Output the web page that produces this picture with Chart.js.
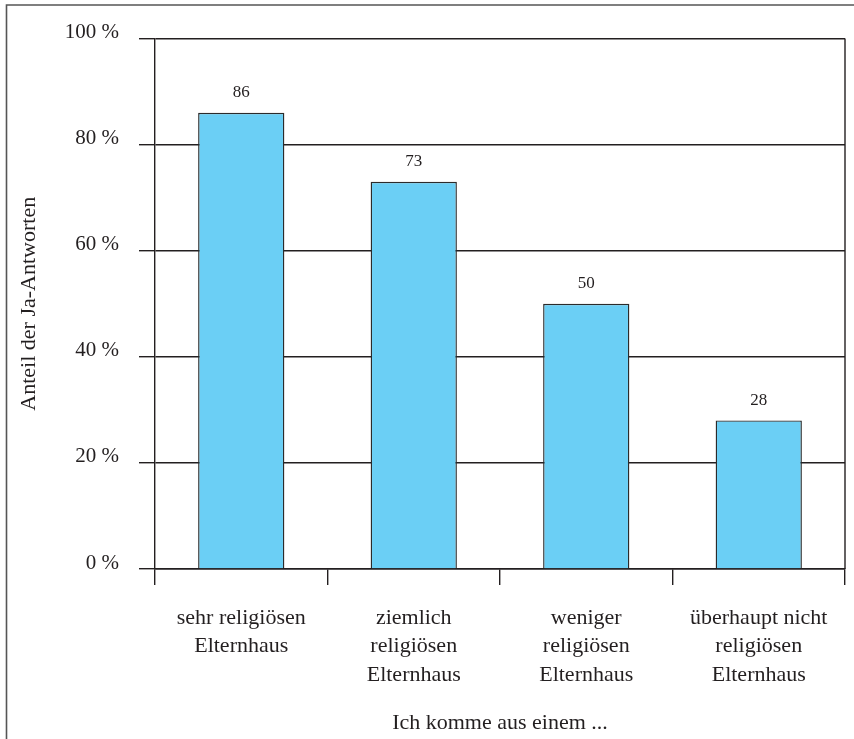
<!DOCTYPE html>
<html>
<head>
<meta charset="utf-8">
<script src="https://cdn.jsdelivr.net/npm/chart.js@4/dist/chart.umd.min.js"></script>
<style>
html,body{margin:0;padding:0;background:#fff;}
#wrap{width:854px;height:739px;position:relative;}
</style>
</head>
<body>
<div id="wrap"><canvas id="c" width="854" height="739"></canvas></div>
<script>
const categories = [
  ["sehr religiösen", "Elternhaus"],
  ["ziemlich", "religiösen", "Elternhaus"],
  ["weniger", "religiösen", "Elternhaus"],
  ["überhaupt nicht", "religiösen", "Elternhaus"]
];
const values = [86, 73, 50, 28];
const yTicks = [0, 20, 40, 60, 80, 100];
const yTitle = "Anteil der Ja-Antworten";
const xTitle = "Ich komme aus einem ...";

const FONT = "'Liberation Serif', 'Times New Roman', serif";
const INK = "#231f20";

const framePlugin = {
  id: 'frame',
  beforeDraw(chart) {
    const ctx = chart.ctx;
    ctx.save();
    ctx.strokeStyle = '#555';
    ctx.lineWidth = 1.6;
    ctx.beginPath();
    ctx.moveTo(6.5, 739);
    ctx.lineTo(6.5, 5);
    ctx.lineTo(854, 5);
    ctx.stroke();
    ctx.restore();
  },
  afterDraw(chart) {
    const a = chart.chartArea;
    const ctx = chart.ctx;
    ctx.save();
    ctx.strokeStyle = INK;
    ctx.lineWidth = 1.4;
    ctx.beginPath();
    ctx.moveTo(a.right, a.top);
    ctx.lineTo(a.right, a.bottom);
    ctx.stroke();
    ctx.restore();
  }
};

const labelPlugin = {
  id: 'vlabels',
  afterDatasetsDraw(chart) {
    const ctx = chart.ctx;
    const meta = chart.getDatasetMeta(0);
    ctx.save();
    ctx.font = "17px " + FONT;
    ctx.fillStyle = INK;
    ctx.textAlign = 'center';
    ctx.textBaseline = 'middle';
    meta.data.forEach((el, i) => {
      ctx.fillText(String(values[i]), el.x, el.y - 20);
    });
    ctx.restore();
  }
};

new Chart(document.getElementById('c'), {
  type: 'bar',
  data: {
    labels: categories,
    datasets: [{
      data: values,
      backgroundColor: '#6bcff5',
      borderColor: '#2b2b2b',
      borderWidth: 1.4,
      categoryPercentage: 1.0,
      barPercentage: 0.5
    }]
  },
  options: {
    responsive: false,
    animation: false,
    devicePixelRatio: 1,
    layout: { padding: { top: 38.5, right: 9, left: 0, bottom: 0 } },
    plugins: { legend: { display: false }, tooltip: { enabled: false } },
    scales: {
      x: {
        afterFit(s) { s.height = 170; },
        grid: {
          offset: true,
          drawOnChartArea: false,
          drawTicks: true,
          tickLength: 16,
          color: INK,
          lineWidth: 1.4
        },
        border: { display: true, color: INK, width: 1.4 },
        ticks: {
          color: INK,
          font: { family: FONT, size: 22, lineHeight: 1.3 },
          padding: 18.5,
          maxRotation: 0,
          autoSkip: false
        },
        title: {
          display: true,
          text: xTitle,
          color: INK,
          font: { family: FONT, size: 22 },
          padding: { top: 0, bottom: 3 }
        }
      },
      y: {
        min: 0,
        max: 100,
        afterFit(s) { s.width = 155; },
        afterBuildTicks(s) { s.ticks = yTicks.map(v => ({ value: v })); },
        grid: {
          drawOnChartArea: true,
          drawTicks: true,
          tickLength: 16,
          color: INK,
          lineWidth: 1.4
        },
        border: { display: true, color: INK, width: 1.4 },
        ticks: {
          color: INK,
          font: { family: FONT, size: 21 },
          padding: 20,
          labelOffset: -6,
          callback: v => v + ' %'
        },
        title: {
          display: true,
          text: yTitle,
          color: INK,
          font: { family: FONT, size: 22 },
          padding: { top: 16, bottom: 0 }
        }
      }
    }
  },
  plugins: [framePlugin, labelPlugin]
});
</script>
</body>
</html>
